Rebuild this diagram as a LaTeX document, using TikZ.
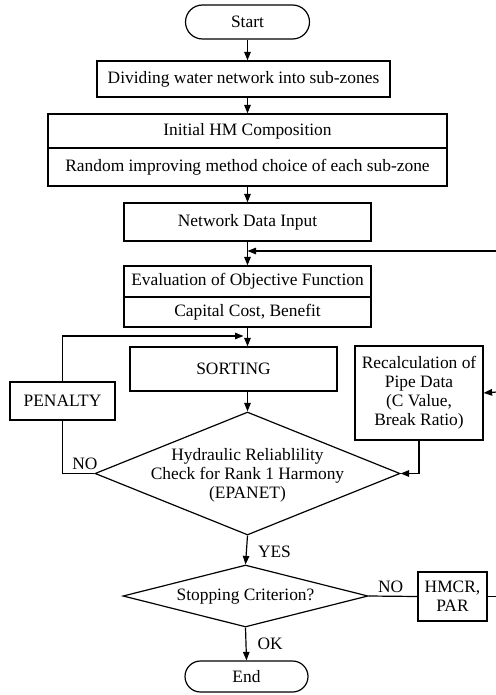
\documentclass[tikz,border=0pt]{standalone}
\usepackage{fontspec}
\setmainfont{Liberation Serif}
\usetikzlibrary{shapes.misc,shapes.geometric,arrows.meta}
\begin{document}
\begin{tikzpicture}[x=1pt,y=-1pt,
  every node/.style={font=\fontsize{17.4}{19}\selectfont, inner sep=0pt},
  box/.style={draw, rectangle, line width=1.2pt},
  term/.style={draw, rounded rectangle, line width=1.2pt},
  dia/.style={draw, diamond, line width=1.2pt},
  line/.style={line width=1.2pt},
  arr/.style={line width=1.2pt, -{Triangle[length=8.5pt,width=6.5pt]}}
]
\useasboundingbox (0,0) rectangle (495,695);

% nodes
\node[term, minimum width=124, minimum height=34] (start) at (247.5,22) {Start};
\node[box, minimum width=293, minimum height=36] (divide) at (243.5,79) {Dividing water network into sub-zones};
\node[box, minimum width=399, minimum height=34] (hm1) at (247.5,131) {Initial HM Composition};
\node[box, minimum width=399, minimum height=38] (hm2) at (247.5,167) {Random improving method choice of each sub-zone};
\node[box, minimum width=247, minimum height=38] (net) at (247.5,222) {Network Data Input};
\node[box, minimum width=247, minimum height=31] (eval1) at (247.5,281.5) {Evaluation of Objective Function};
\node[box, minimum width=247, minimum height=30] (eval2) at (247.5,312) {Capital Cost, Benefit};
\node[box, minimum width=207, minimum height=44] (sort) at (233.5,369) {SORTING};
\node[box, minimum width=105, minimum height=38] (penalty) at (62.5,401) {PENALTY};
\node[box, minimum width=128, minimum height=94, align=center] (recalc) at (419,393) {Recalculation of\\Pipe Data\\(C Value,\\Break Ratio)};
\node[dia, minimum width=305, minimum height=123] (check) at (247.5,473.5) {};
\node[align=center] (checktext) at (247.5,475) {Hydraulic Reliablility\\Check for Rank 1 Harmony\\(EPANET)};
\node[dia, minimum width=245, minimum height=62] (stop) at (245.5,596) {};
\node (stoptext) at (245.5,597) {Stopping Criterion?};
\node[box, minimum width=69, minimum height=49, align=center] (hmcr) at (452.5,596.5) {HMCR,\\PAR};
\node[term, minimum width=123, minimum height=31] (end) at (246.5,676.5) {End};

% helper coordinates
\coordinate (j1) at (247.5,336);
\coordinate (j2) at (247.5,251);
\coordinate (r1) at (497,596.5);
\coordinate (r2) at (497,392);
\coordinate (r3) at (497,251);

% main spine
\draw[arr] (start.south) -- (start.south |- divide.north);
\draw[arr] (start.south |- divide.south) -- (start.south |- hm1.north);
\draw[arr] (hm2.south) -- (net.north);
\draw[arr] (net.south) -- (eval1.north);
\draw[arr] (eval2.south) -- (eval2.south |- sort.north);
\draw[arr] (eval2.south |- sort.south) -- (check.north);
\draw[arr] (check.south) -- node[right=11pt, pos=0.55] {YES} (stop.north);
\draw[arr] (stop.south) -- node[right=11pt, pos=0.5] {OK} (end.north);

% NO branch of stopping criterion
\draw[line] (stop.east) -- node[above=3pt, pos=0.45] {NO} (hmcr.west);
\draw[line] (hmcr.east) -- (r1) -- (r3);
\draw[arr] (r3) -- (j2);
\draw[arr] (r2) -- (recalc.east);

% recalculation back to check
\draw[arr] (recalc.south) |- (check.east);

% NO branch of check -> penalty -> back
\draw[line] (check.west) -- node[above=3pt, pos=0.3] {NO} (penalty.south |- check.west) -- (penalty.south);
\draw[arr] (penalty.north) |- ([xshift=-4pt]j1);
\end{tikzpicture}
\end{document}
